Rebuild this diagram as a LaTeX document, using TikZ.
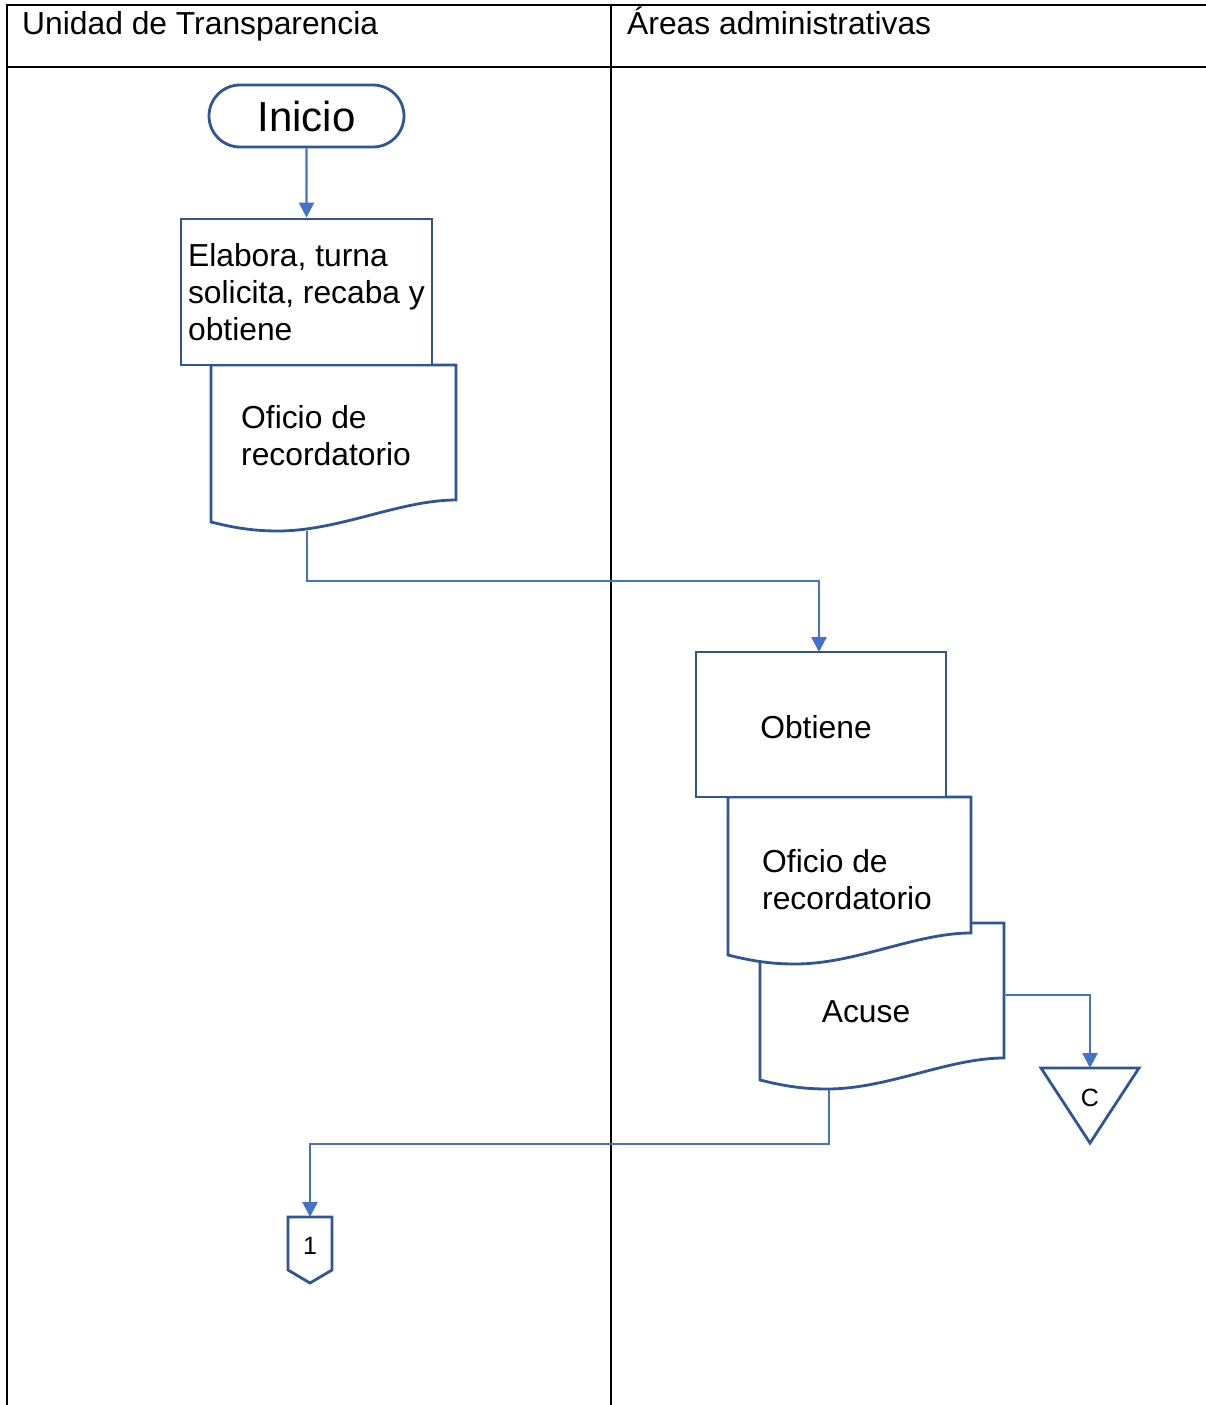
\documentclass[tikz,border=0pt]{standalone}
\usepackage{fontspec}
\setmainfont{Liberation Sans}
\usetikzlibrary{arrows.meta,shapes.misc,positioning}
\definecolor{shapeblue}{HTML}{2F5597}
\definecolor{linkblue}{HTML}{4472C4}

\begin{document}
\begin{tikzpicture}[x=1pt,y=-1pt,
    txt/.style={font=\fontsize{31.8}{37}\selectfont, inner sep=0pt, align=left},
    shp/.style={draw=shapeblue, line width=2.8pt, fill=white},
    procbox/.style={shp, txt},
    flow/.style={draw=linkblue, line width=2.4pt, -{Triangle[length=15pt,width=15pt]}},
    lane/.style={draw=black, line width=2.6pt}]
    \useasboundingbox (0,0) rectangle (1206,1405);
    % document shape: x0, ytop, x1, yright
    \def\docshape#1#2#3#4{
        \draw[shp] (#1,#2) -- (#3,#2) -- (#3,#4)
            .. controls ({#3-56},#4) and ({#1+128},{#4+31}) .. ({#1+67},{#4+31})
            .. controls ({#1+40},{#4+31}) and ({#1+20},{#4+27}) .. (#1,{#4+22}) -- cycle;
    }
    % lanes
    \draw[lane] (7,1405) -- (7,5) -- (1206,5);
    \draw[lane] (7,67) -- (1206,67);
    \draw[lane] (611,5) -- (611,1405);
    \node[txt, anchor=base west] (laneUT) at (22,35) {Unidad de Transparencia};
    \node[txt, anchor=base west] (laneAA) at (627,35) {Áreas administrativas};
    % left lane
    \node[shp, rounded rectangle, minimum width=195pt, minimum height=62pt, inner sep=0pt,
        font=\fontsize{42}{48}\selectfont] (inicio) at (306.5,116) {Inicio};
    \docshape{211}{365}{456}{500}
    \node[txt, anchor=west] (oficio1) at (241,436) {Oficio de\\recordatorio};
    \coordinate (oficio1-out) at (307,531);
    \node[procbox, minimum width=251pt, minimum height=146pt] (elabora) at (306.5,292)
        {Elabora, turna\\solicita, recaba y\\obtiene};
    % right lane
    \docshape{760}{923}{1004}{1058}
    \node[txt] (acuse) at (866,1012) {Acuse};
    \coordinate (acuse-r) at (1004,995);
    \coordinate (acuse-b) at (829,1090);
    \docshape{728}{797}{971}{933}
    \node[txt, anchor=west] (oficio2) at (762,880) {Oficio de\\recordatorio};
    \node[shp, minimum width=250pt, minimum height=145pt] (obtiene) at (821,724.5) {};
    \node[txt] (obtieneTxt) at (816,727) {Obtiene};
    \coordinate (obtiene-in) at (819,652);
    % connectors
    \draw[shp] (1041,1068) -- (1139,1068) -- (1090,1143) -- cycle;
    \node[txt, font=\fontsize{25}{28}\selectfont] (conC) at (1090,1098) {C};
    \coordinate (conC-top) at (1090,1068);
    \draw[shp] (288,1217) -- (332,1217) -- (332,1270) -- (310,1283) -- (288,1270) -- cycle;
    \node[txt, font=\fontsize{25}{28}\selectfont] (pag1) at (310,1246) {1};
    \coordinate (pag1-top) at (310,1217);
    % flow
    \draw[flow] (inicio) -- (elabora);
    \draw[flow] (oficio1-out) -- (307,581) -| (obtiene-in);
    \draw[flow] (acuse-r) -| (conC-top);
    \draw[flow] (acuse-b) -- (829,1144) -| (pag1-top);
\end{tikzpicture}
\end{document}
